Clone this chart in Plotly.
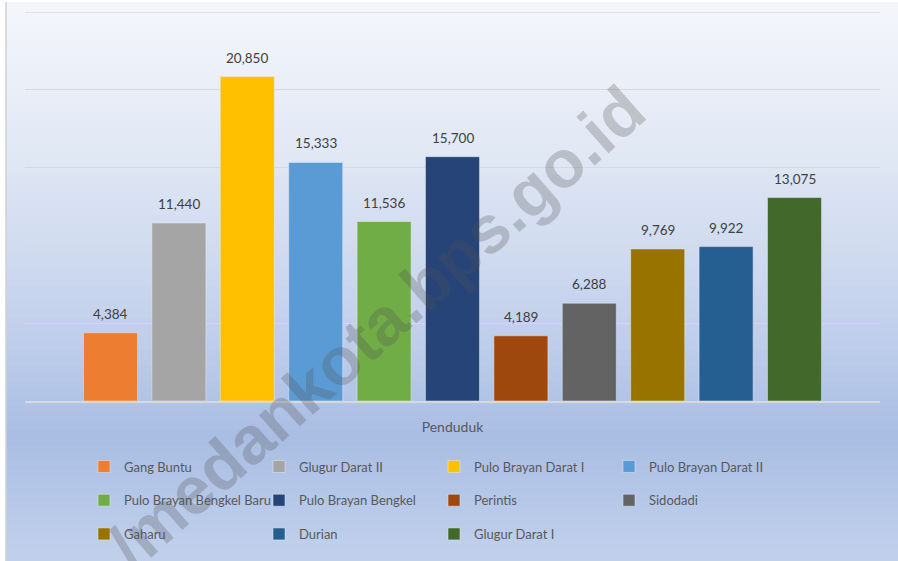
import numpy as np
import plotly.graph_objects as go

# kelurahan dan jumlah penduduk
kelurahan = [
	"Gang Buntu", "Glugur Darat II", "Pulo Brayan Darat I", "Pulo Brayan Darat II",
	"Pulo Brayan Bengkel Baru", "Pulo Brayan Bengkel", "Perintis", "Sidodadi",
	"Gaharu", "Durian", "Glugur Darat I",
]
penduduk = [4384, 11440, 20850, 15333, 11536, 15700, 4189, 6288, 9769, 9922, 13075]
kategori = ["Penduduk"]
warna = [
	"#ED7D31", "#A5A5A5", "#FFC000", "#5B9BD5", "#70AD47", "#264478",
	"#9E480E", "#636363", "#997300", "#255E91", "#43682B",
]
y_max = 25000

W, H = 898, 561
L, R, T, B = 25, 18, 12, 157
FONT = "Lato"
bargap = 0.12
n = len(kelurahan)

# piksel -> koordinat paper (relatif area plot)
def px(x):
	return (x - L) / (W - L - R)

def py(y):
	return (H - B - y) / (H - T - B)

fig = go.Figure()
for i, (nama, nilai) in enumerate(zip(kelurahan, penduduk)):
	fig.add_trace(go.Bar(
		x=kategori, y=[nilai], name=nama, marker_color=warna[i],
		legend=["legend", "legend2", "legend3"][i // 4],
	))
	# label nilai di atas batang
	slot = (1 - bargap) / n
	fig.add_annotation(
		x=-0.5 + bargap / 2 + slot * (i + 0.5), y=nilai, xref="x", yref="y",
		text=f"{nilai:,}", showarrow=False, yanchor="bottom", yshift=9,
		font=dict(family=FONT, size=13.5, color="#404040"),
	)

# watermark
fig.add_annotation(
	x=px(376), y=py(330), xref="paper", yref="paper", text="/medankota.bps.go.id",
	showarrow=False, textangle=-41.5, xanchor="center", yanchor="middle",
	font=dict(family="Liberation Sans", size=67, color="rgba(80,80,80,0.27)", weight="bold"),
)

# latar gradien
ypix = np.linspace(0, H, 71)
stops = [0, 150, 300, 440, 561]
rgb = np.array([[245, 247, 252], [226, 233, 245], [200, 213, 238], [170, 190, 228], [193, 209, 236]])
shapes = []
for a, b in zip(ypix[:-1], ypix[1:]):
	m = (a + b) / 2
	c = [int(np.interp(m, stops, rgb[:, k])) for k in range(3)]
	shapes.append(dict(
		type="rect", xref="paper", yref="paper", layer="below",
		x0=px(6), x1=px(W + 5), y0=py(b + 1 if b < H else H + 5), y1=py(max(a, 2)),
		fillcolor=f"rgb({c[0]},{c[1]},{c[2]})", line_width=0,
	))
shapes.append(dict(type="line", xref="paper", yref="paper", layer="below",
	x0=px(6), x1=px(6), y0=py(H + 5), y1=py(2), line=dict(color="#d0d0d0", width=1.5)))
# garis grid teratas
shapes.append(dict(type="line", xref="paper", yref="y", layer="below",
	x0=0, x1=1, y0=y_max, y1=y_max, line=dict(color="#d9d9d9", width=1.5)))

leg = dict(orientation="h", xanchor="left", yanchor="middle", x=px(84),
	entrywidth=130, entrywidthmode="pixels", bgcolor="rgba(0,0,0,0)",
	font=dict(family=FONT, size=13, color="#595959"), itemclick=False)

fig.update_layout(
	width=W, height=H,
	margin=dict(l=L, r=R, t=T, b=B),
	paper_bgcolor="white", plot_bgcolor="rgba(0,0,0,0)",
	barmode="group", bargap=bargap, bargroupgap=0.21,
	shapes=shapes,
	showlegend=True,
	legend=dict(leg, y=py(470)),
	legend2=dict(leg, y=py(504)),
	legend3=dict(leg, y=py(538)),
	xaxis=dict(showline=True, linecolor="#d9d9d9", linewidth=1.5, ticks="",
		ticklabelstandoff=12, tickfont=dict(family=FONT, size=14, color="#595959")),
	yaxis=dict(range=[0, y_max], dtick=5000,
		showticklabels=False, zeroline=False,
		showgrid=True, gridcolor="#d9d9d9", gridwidth=1),
)

fig.write_html("out.html", config={"displayModeBar": False},
	post_script="document.body.style.margin='0';")
